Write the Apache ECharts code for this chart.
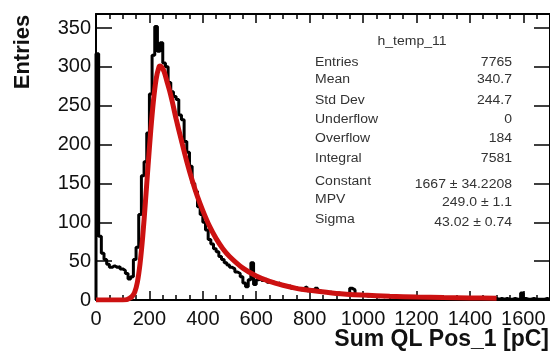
<!DOCTYPE html>
<html>
<head>
<meta charset="utf-8">
<script src="https://cdn.jsdelivr.net/npm/echarts@6/dist/echarts.min.js"></script>
<style>
html,body{margin:0;padding:0;background:#fff;}
#chart{width:550px;height:352px;}
</style>
</head>
<body>
<div id="chart"></div>
<script>
// Histogram: bin width 10 pC, bins starting at 0
var binWidth = 10;
var counts = [
  317, 82, 60, 52, 46, 42, 44, 42, 43, 40,
  38, 34, 27, 30, 52, 68, 110, 160, 178, 215,
  265, 315, 352, 320, 331, 305, 300, 280, 268, 262,
  258, 238, 232, 204, 190, 172, 150, 140, 120, 110,
  100, 90, 78, 72, 66, 62, 56, 52, 48, 45,
  42, 40, 36, 34, 30, 22, 17, 26, 48, 20,
  26, 28, 25, 27, 23, 24, 22, 21, 22, 19,
  18, 17, 18, 15, 16, 14, 13, 15, 17, 12,
  13, 11, 15, 12, 10, 11, 9, 10, 9, 8,
  9, 8, 7, 8, 7, 15, 13, 6, 7, 6,
  6, 5, 6, 5, 5, 4, 5, 4, 5, 4,
  4, 4, 3, 4, 3, 4, 3, 3, 4, 3,
  3, 3, 2, 3, 3, 2, 3, 2, 3, 2,
  2, 3, 2, 2, 2, 3, 2, 2, 2, 2,
  2, 2, 1, 2, 2, 1, 2, 2, 1, 2,
  1, 2, 1, 2, 1, 1, 2, 1, 1, 9,
  2, 1, 1, 2, 1, 1, 1, 1, 2, 1
];
// Landau fit curve
var fitX = [0, 100, 115, 125, 135, 145, 155, 165, 175, 185, 195, 205, 215, 225, 235, 240, 245, 255, 265, 275, 285, 300, 320, 340, 360, 380, 400, 425, 450, 475, 500, 550, 600, 650, 700, 750, 800, 900, 1000, 1100, 1200, 1300, 1400, 1500];
var fitY = [0, 0, 0.5, 2, 4.5, 10, 23, 47, 82, 126, 173, 218, 256, 284, 299, 301, 300, 294, 282, 270, 256, 233, 205, 178, 154, 133, 115, 95, 79, 66, 56, 41, 31, 24, 19, 15, 12.5, 8.5, 6.3, 4.8, 3.8, 3.1, 2.6, 2.2];

var xTicks = [0, 200, 400, 600, 800, 1000, 1200, 1400, 1600];
var yTicks = [0, 50, 100, 150, 200, 250, 300, 350];

var statsTitle = 'h_temp_11';
var statsLabels = ['Entries', 'Mean', 'Std Dev', 'Underflow', 'Overflow', 'Integral', 'Constant', 'MPV', 'Sigma'];
var statsValues = ['7765', '340.7', '244.7', '0', '184', '7581', '1667 \u00b1 34.2208', '249.0 \u00b1 1.1', '43.02 \u00b1 0.74'];
var xTitle = 'Sum QL Pos_1 [pC]';
var yTitle = 'Entries';

var histData = [[0, 0]];
for (var i = 0; i < counts.length; i++) histData.push([i * binWidth, counts[i]]);
histData.push([counts.length * binWidth, counts[counts.length - 1]]);
var fitData = fitX.map(function (x, i) { return [x, fitY[i]]; });

var XMAX = 1700, YMAX = 368;
var font = '"Liberation Sans", Arial, sans-serif';

var labelY = [63, 80, 101, 120, 139, 159, 182, 200, 220];
var valueY = [63, 80, 101, 120, 139, 159, 185, 203, 223];

var graphics = [];
function statText(x, y, txt, align) {
  return {type: 'text', x: x, y: y, scaleX: 1.12,
    style: {text: txt, font: '12.5px ' + font, fill: '#333', textAlign: align, textVerticalAlign: 'middle'}};
}
graphics.push(statText(412, 42, statsTitle, 'center'));
for (var k = 0; k < statsLabels.length; k++) {
  graphics.push(statText(315, labelY[k], statsLabels[k], 'left'));
  graphics.push(statText(512, valueY[k], statsValues[k], 'right'));
}
graphics.push({type: 'text', x: 549, y: 340, style: {text: xTitle, font: 'bold 23px ' + font, fill: '#111', textAlign: 'right', textVerticalAlign: 'middle'}});
graphics.push({type: 'text', x: 23, y: 52, rotation: Math.PI / 2, style: {text: yTitle, font: 'bold 22px ' + font, fill: '#111', textAlign: 'center', textVerticalAlign: 'middle'}});

function xFmt(v) { return xTicks.indexOf(v) >= 0 ? String(v) : ''; }
function yFmt(v) { return yTicks.indexOf(v) >= 0 ? String(v) : ''; }

var lineSt = {color: '#000', width: 2};
var chart = echarts.init(document.getElementById('chart'), null, {renderer: 'canvas'});
chart.setOption({
  animation: false,
  backgroundColor: '#fff',
  grid: {left: 96, right: -4, top: 14, bottom: 52, show: false},
  xAxis: [
    {type: 'value', min: 0, max: XMAX, interval: 200, position: 'bottom',
     axisLine: {show: true, onZero: false, lineStyle: lineSt},
     axisTick: {show: true, inside: true, length: 9, lineStyle: {color: '#000', width: 1.5}},
     minorTick: {show: true, splitNumber: 4, length: 5, lineStyle: {color: '#000', width: 1.5}},
     axisLabel: {formatter: xFmt, color: '#111', fontSize: 20, fontFamily: font, margin: 9, showMaxLabel: false},
     splitLine: {show: false}},
    {type: 'value', min: 0, max: XMAX, interval: 200, position: 'top',
     axisLine: {show: true, onZero: false, lineStyle: lineSt},
     axisTick: {show: true, inside: true, length: 9, lineStyle: {color: '#000', width: 1.5}},
     minorTick: {show: true, splitNumber: 4, length: 5, lineStyle: {color: '#000', width: 1.5}},
     axisLabel: {show: false}, splitLine: {show: false}}
  ],
  yAxis: [
    {type: 'value', min: 0, max: YMAX, interval: 50, position: 'left',
     axisLine: {show: true, onZero: false, lineStyle: lineSt},
     axisTick: {show: true, inside: true, length: 16, lineStyle: {color: '#000', width: 1.5}},
     axisLabel: {formatter: yFmt, color: '#111', fontSize: 20, fontFamily: font, margin: 5, showMaxLabel: false},
     splitLine: {show: false}},
    {type: 'value', min: 0, max: YMAX, interval: 50, position: 'right',
     axisLine: {show: true, onZero: false, lineStyle: lineSt},
     axisTick: {show: true, inside: true, length: 16, lineStyle: {color: '#000', width: 1.5}},
     axisLabel: {show: false}, splitLine: {show: false}}
  ],
  series: [
    {type: 'line', step: 'end', data: histData, symbol: 'none', clip: true,
     lineStyle: {color: '#000', width: 3}, z: 2},
    {type: 'line', data: fitData, symbol: 'none', smooth: 0.3, clip: true,
     lineStyle: {color: '#cc1111', width: 5}, z: 3}
  ],
  graphic: graphics
});
</script>
</body>
</html>
